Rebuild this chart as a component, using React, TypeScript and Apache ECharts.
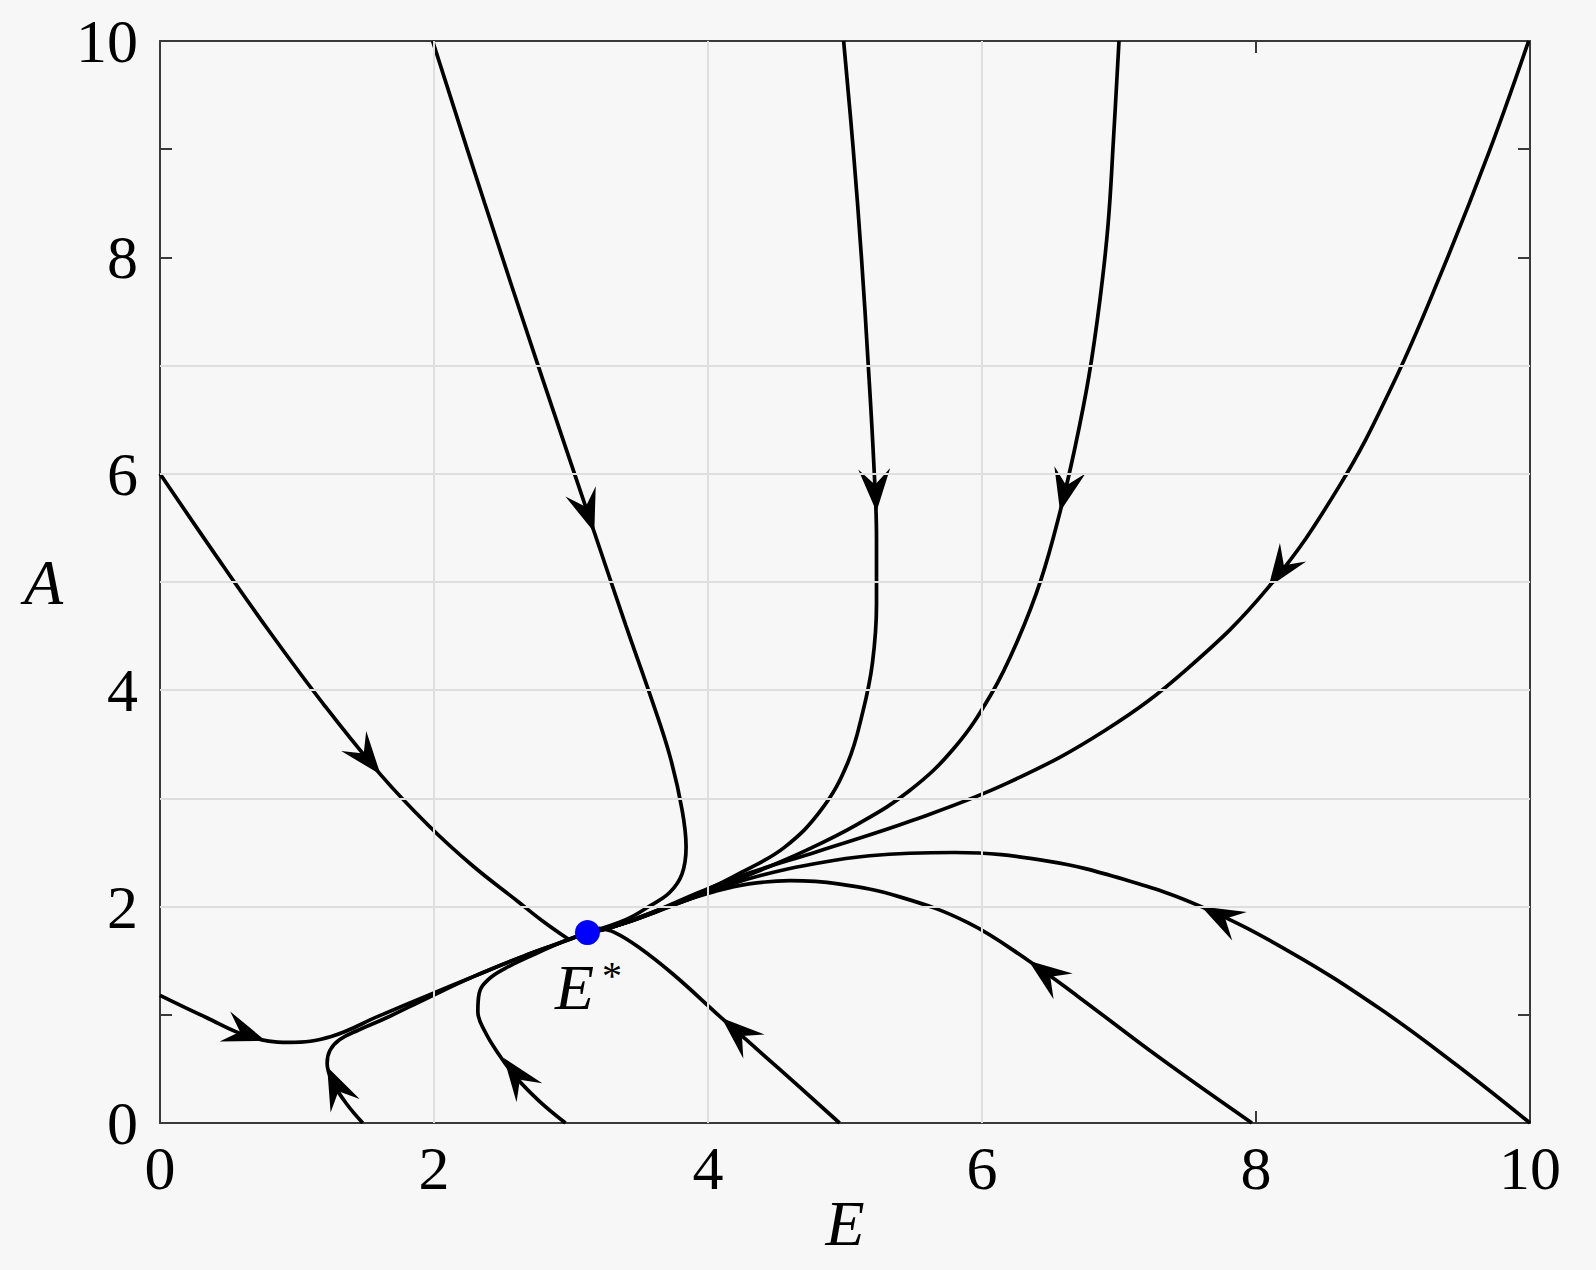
import React, { useEffect, useRef } from "react";
import * as echarts from "echarts";

// Equilibrium point E*
const eStar: number[][] = [[3.12, 1.76]];

// Trajectories [E, A]
const trajFromA6: number[][] = [
  [0, 6], [0.4, 5.26], [0.8, 4.54], [1.2, 3.86], [1.61, 3.22], [1.96, 2.75], [2.28, 2.38],
  [2.61, 2.05], [2.8, 1.86], [2.98, 1.7],
];
const trajSlowLeft: number[][] = [
  [0, 1.18], [0.33, 0.98], [0.65, 0.8], [0.94, 0.745], [1.25, 0.8], [1.6, 0.99],
  [1.96, 1.18], [2.3, 1.36], [2.65, 1.54], [2.93, 1.67], [3.12, 1.76],
];
const trajFromE15: number[][] = [
  [1.48, 0], [1.36, 0.18], [1.26, 0.38], [1.22, 0.55], [1.24, 0.67], [1.31, 0.77],
  [1.45, 0.86], [1.65, 0.97], [1.96, 1.16], [2.3, 1.36], [2.65, 1.54], [2.93, 1.67], [3.12, 1.76],
];
const trajFromE3: number[][] = [
  [2.96, 0], [2.77, 0.2], [2.6, 0.42], [2.47, 0.64], [2.37, 0.85], [2.32, 1.03],
  [2.33, 1.2], [2.4, 1.33], [2.52, 1.43], [2.7, 1.54], [2.93, 1.67], [3.12, 1.76],
];
const trajFromE5: number[][] = [
  [4.96, 0], [4.52, 0.5], [4.1, 0.97], [3.75, 1.37], [3.5, 1.62], [3.32, 1.76], [3.2, 1.8],
];
const trajFromE8: number[][] = [
  [7.97, 0], [7.3, 0.6], [6.7, 1.17], [6.34, 1.5], [5.9, 1.85], [5.4, 2.09], [4.95, 2.21],
  [4.6, 2.24], [4.3, 2.21], [4.05, 2.14], [3.75, 2.02], [3.4, 1.85], [3.12, 1.76],
];
const trajFromE10: number[][] = [
  [10, 0], [9.45, 0.55], [8.9, 1.06], [8.25, 1.58], [7.6, 2.0], [7.04, 2.25], [6.48, 2.42],
  [5.8, 2.5], [5.18, 2.47], [4.71, 2.38], [4.39, 2.29], [4.15, 2.2], [3.78, 2.03],
  [3.4, 1.85], [3.12, 1.76],
];
const trajTopE2: number[][] = [
  [1.99, 10], [2.37, 8.5], [2.76, 7.0], [3.17, 5.46], [3.4, 4.6], [3.59, 3.91],
  [3.72, 3.4], [3.81, 2.9], [3.84, 2.55], [3.81, 2.3], [3.72, 2.13], [3.58, 2.01],
  [3.4, 1.88], [3.12, 1.76],
];
const trajTopE5: number[][] = [
  [4.99, 10], [5.06, 9.0], [5.12, 8.0], [5.17, 7.0], [5.21, 6.1], [5.23, 5.4], [5.23, 4.8],
  [5.2, 4.25], [5.13, 3.8], [5.02, 3.33], [4.83, 2.9], [4.56, 2.55], [4.25, 2.32],
  [3.95, 2.13], [3.6, 1.95], [3.3, 1.81], [3.12, 1.76],
];
const trajTopE7: number[][] = [
  [7.0, 10], [6.96, 9.1], [6.92, 8.3], [6.86, 7.6], [6.78, 6.9], [6.68, 6.25], [6.57, 5.65],
  [6.43, 5.02], [6.26, 4.46], [6.07, 3.97], [5.8, 3.47], [5.47, 3.07], [5.09, 2.76],
  [4.7, 2.51], [4.35, 2.32], [3.98, 2.13], [3.62, 1.95], [3.3, 1.81], [3.12, 1.76],
];
const trajTopE10: number[][] = [
  [9.99, 10], [9.7, 8.97], [9.35, 7.85], [9.0, 6.83], [8.6, 5.87], [8.09, 4.95], [7.5, 4.2],
  [6.9, 3.63], [6.2, 3.15], [5.5, 2.8], [4.8, 2.51], [4.3, 2.31], [3.95, 2.14],
  [3.6, 1.95], [3.3, 1.81], [3.12, 1.76],
];

const trajectories = [
  trajFromA6, trajSlowLeft, trajFromE15, trajFromE3, trajFromE5, trajFromE8,
  trajFromE10, trajTopE2, trajTopE5, trajTopE7, trajTopE10,
];

// Arrow heads: [tipE, tipA, fromE, fromA]
const arrows: number[][] = [
  [1.61, 3.22, 1.25, 3.79],
  [0.77, 0.76, 0.5, 0.88],
  [1.22, 0.52, 1.3, 0.3],
  [2.51, 0.6, 2.65, 0.36],
  [4.1, 0.97, 4.52, 0.5],
  [6.34, 1.5, 7.0, 0.88],
  [7.6, 2.0, 8.25, 1.58],
  [3.17, 5.46, 2.96, 6.25],
  [5.23, 5.65, 5.19, 6.6],
  [6.57, 5.65, 6.7, 6.35],
  [8.09, 4.95, 8.6, 5.87],
];

// Visible grid lines
const gridRows = [2, 3, 4, 5, 6, 7];
const gridCols = [2, 4, 6];

const FONT = "'Liberation Serif', 'Times New Roman', Times, serif";

const mkLine = () => ({ show: true, onZero: false, lineStyle: { color: "#3a3a3a", width: 2 } });
const mkTick = () => ({ show: true, inside: true, length: 12, lineStyle: { color: "#3a3a3a", width: 2 } });

export default function App() {
  const ref = useRef<HTMLDivElement>(null);
  useEffect(() => {
    document.body.style.margin = "0";
    document.body.style.background = "#f7f7f7";
    const chart = echarts.init(ref.current!, null, { renderer: "svg" });
    const option: any = {
      animation: false,
      backgroundColor: "#f7f7f7",
      textStyle: { fontFamily: FONT },
      grid: { left: 160, right: 66, top: 41, bottom: 147 },
      xAxis: [
        {
          type: "value", min: 0, max: 10, interval: 2, position: "bottom",
          axisLine: mkLine(), axisTick: mkTick(), splitLine: { show: false },
          axisLabel: { fontFamily: FONT, fontSize: 62, color: "#000", margin: 14 },
          name: "E", nameLocation: "middle", nameGap: 68, nameMoveOverlap: false,
          nameTextStyle: { fontFamily: FONT, fontStyle: "italic", fontSize: 64, color: "#000" },
        },
        {
          type: "value", min: 0, max: 10, interval: 2, position: "top",
          axisLine: mkLine(), axisTick: mkTick(), splitLine: { show: false }, axisLabel: { show: false },
        },
      ],
      yAxis: [
        {
          type: "value", min: 0, max: 10, interval: 1, position: "left",
          axisLine: mkLine(), axisTick: mkTick(), splitLine: { show: false },
          axisLabel: {
            fontFamily: FONT, fontSize: 62, color: "#000", margin: 22,
            formatter: (v: number) => (v % 2 === 0 ? String(v) : ""),
          },
          name: "A", nameLocation: "middle", nameGap: 97, nameRotate: 0, nameMoveOverlap: false,
          nameTextStyle: { fontFamily: FONT, fontStyle: "italic", fontSize: 64, color: "#000" },
        },
        {
          type: "value", min: 0, max: 10, interval: 1, position: "right",
          axisLine: mkLine(), axisTick: mkTick(), splitLine: { show: false }, axisLabel: { show: false },
        },
      ],
      series: [
        {
          type: "line", data: [], z: 1, silent: true,
          markLine: {
            silent: true, symbol: "none", label: { show: false },
            lineStyle: { color: "#dedede", width: 2, type: "solid" },
            data: [
              ...gridRows.map((v) => ({ yAxis: v })),
              ...gridCols.map((v) => ({ xAxis: v })),
            ],
          },
        },
        ...trajectories.map((d) => ({
          type: "line", data: d, showSymbol: false, symbol: "none", smooth: 0.4, z: 3,
          lineStyle: { color: "#000", width: 3.7 }, silent: true,
        })),
        {
          type: "custom", z: 4, silent: true, data: arrows,
          encode: { x: 0, y: 1 },
          renderItem: (params: any, api: any) => {
            const tip = api.coord([api.value(0), api.value(1)]);
            const from = api.coord([api.value(2), api.value(3)]);
            const ang = Math.atan2(tip[1] - from[1], tip[0] - from[0]);
            const c = Math.cos(ang), s = Math.sin(ang);
            const L = 43, W = 16, N = 27;
            const pts = [[0, 0], [-L, -W], [-N, 0], [-L, W]].map(([x, y]) => [
              tip[0] + x * c - y * s,
              tip[1] + x * s + y * c,
            ]);
            return { type: "polygon", shape: { points: pts }, style: { fill: "#000" } };
          },
        },
        {
          type: "scatter", data: eStar, z: 5, symbolSize: 25, silent: true,
          itemStyle: { color: "#0000ff", opacity: 1 },
          label: {
            show: true, position: "bottom", distance: 10, offset: [1, 0], color: "#000",
            formatter: "{e|E}{s|*}",
            rich: {
              e: { fontFamily: FONT, fontStyle: "italic", fontSize: 64, lineHeight: 64, color: "#000" },
              s: { fontFamily: FONT, fontSize: 40, lineHeight: 22, color: "#000", verticalAlign: "top", padding: [0, 0, 0, 8] },
            },
          },
        },
      ],
    };
    chart.setOption(option);
    return () => chart.dispose();
  }, []);
  return (
    <div
      ref={ref}
      style={{ position: "absolute", left: 0, top: 0, width: 1596, height: 1270, background: "#f7f7f7" }}
    />
  );
}
